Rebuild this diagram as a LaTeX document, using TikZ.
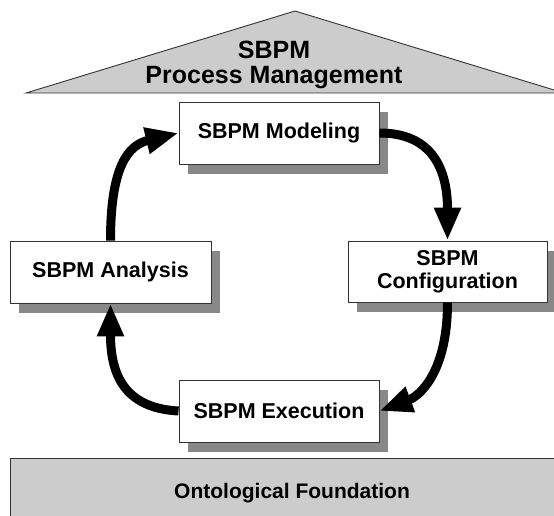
\documentclass[tikz,border=0pt]{standalone}
\usepackage{fontspec}
\setmainfont{Liberation Sans}
\usetikzlibrary{arrows.meta,shadows}
\definecolor{shadowgray}{HTML}{888888}
\definecolor{lightfill}{HTML}{CCCCCC}
\definecolor{edgegray}{HTML}{333333}
\tikzset{
  phasebox/.style={draw=edgegray, line width=0.9pt, fill=white, minimum width=200pt, minimum height=62pt,
    align=center, font=\fontsize{21.5}{23}\selectfont\bfseries, inner sep=0pt,
    drop shadow={shadow xshift=9pt, shadow yshift=-10pt, fill=shadowgray, opacity=1}},
  cyclearrow/.style={line width=9pt, -{Triangle[length=33pt, width=25pt]}, black},
}
\begin{document}
\begin{tikzpicture}[x=1pt,y=-1pt]
\useasboundingbox (0,0) rectangle (554,515);
\clip (0,0) rectangle (554,515);
\fill[white] (0,0) rectangle (554,515);
% roof
\coordinate (roofL) at (26,93);
\coordinate (roofT) at (295,11);
\coordinate (roofR) at (564,93);
\draw[draw=edgegray, line width=0.9pt, fill=lightfill] (roofL) -- (roofT) -- (roofR) -- cycle;
\node[align=center, font=\fontsize{25}{25}\selectfont\bfseries] (roof) at (274,65) {SBPM\\Process Management};
% foundation
\node[draw=edgegray, line width=0.9pt, fill=lightfill, minimum width=564pt, minimum height=70pt,
  font=\fontsize{21}{23}\selectfont\bfseries] (found) at (292,493) {Ontological Foundation};
% phases
\node[phasebox, minimum width=200pt] (mod) at (279,133) {SBPM Modeling};
\node[phasebox, minimum width=201pt] (ana) at (110.5,272) {SBPM Analysis};
\node[phasebox, minimum width=199pt, minimum height=61pt] (conf) at (447.5,271.5) {SBPM\\Configuration};
\node[phasebox, minimum width=200pt] (exe) at (279,411) {SBPM Execution};
% arrows
\draw[cyclearrow] (ana.north) .. controls +(0,-75) and +(-50,12) .. (mod.west);
\draw[cyclearrow] (mod.east) .. controls +(50,0) and +(0,-75) .. (conf.north);
\draw[cyclearrow] (conf.south) .. controls +(0,70) and +(40,-15) .. (exe.east);
\draw[cyclearrow] (exe.west) .. controls +(-55,-3) and +(0,70) .. (ana.south);
\end{tikzpicture}
\end{document}
